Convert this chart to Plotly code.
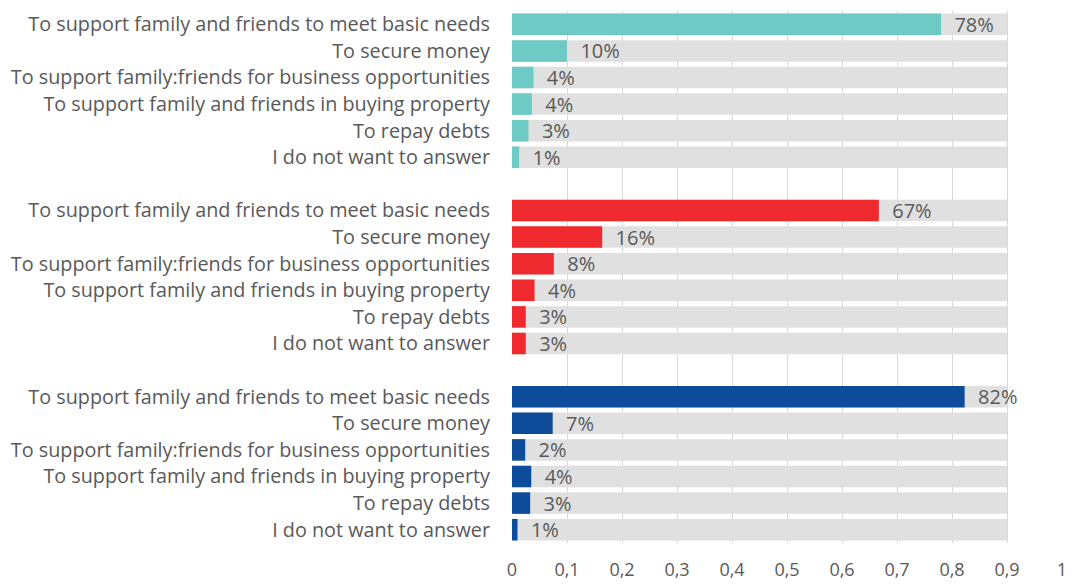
import plotly.graph_objects as go

# Reasons, listed top to bottom within each group
categories = [
    "To support family and friends to meet basic needs",
    "To secure money",
    "To support family:friends for business opportunities",
    "To support family and friends in buying property",
    "To repay debts",
    "I do not want to answer",
]

# Share of respondents per reason, one list per group
group_teal = [0.78, 0.10, 0.039, 0.036, 0.030, 0.013]
group_red = [0.667, 0.164, 0.076, 0.041, 0.025, 0.025]
group_blue = [0.823, 0.074, 0.024, 0.035, 0.033, 0.010]

background_value = 0.9

groups = [
    (group_teal, "#6DCAC5"),
    (group_red, "#EE2A2E"),
    (group_blue, "#0D4C9A"),
]

label_color = "#595959"
font_family = "'Open Sans', 'Noto Sans', sans-serif"

fig = go.Figure()

rows_per_group = len(categories) + 1  # one blank row between groups
tickvals, ticktext = [], []

for g, (values, color) in enumerate(groups):
    ys = [g * rows_per_group + i for i in range(len(categories))]
    tickvals += ys
    ticktext += categories
    # grey track behind each bar
    fig.add_trace(go.Bar(
        x=[background_value] * len(values), y=ys, orientation="h",
        marker=dict(color="#E0E0E0", line=dict(width=0)),
        hoverinfo="skip", showlegend=False,
    ))
    fig.add_trace(go.Bar(
        x=values, y=ys, orientation="h",
        marker=dict(color=color, line=dict(width=0)),
        text=values, texttemplate="  %{x:.0%}", textposition="outside",
        constraintext="none",
        textfont=dict(color=label_color, size=20, family=font_family),
        cliponaxis=False, showlegend=False,
    ))

n_rows = rows_per_group * len(groups) - 1

fig.update_layout(
    width=1073, height=586,
    margin=dict(l=512, r=11, t=11, b=43),
    paper_bgcolor="white", plot_bgcolor="white",
    barmode="overlay", bargap=0.19,
    separators=", ",
    font=dict(family=font_family, color=label_color, size=18),
    xaxis=dict(
        range=[0, 1], dtick=0.1, tick0=0,
        showgrid=True, gridcolor="#D9D9D9", gridwidth=1,
        zeroline=False, showline=False, ticks="",
        ticklabelstandoff=14, automargin=False,
        tickfont=dict(size=18, color=label_color),
    ),
    yaxis=dict(
        range=[n_rows - 0.5, -0.5],
        tickvals=tickvals, ticktext=ticktext,
        showgrid=False, zeroline=False, showline=False, ticks="",
        ticklabelstandoff=21, automargin=False,
        tickfont=dict(size=19.8, color=label_color),
    ),
)

fig.write_html("out.html")
